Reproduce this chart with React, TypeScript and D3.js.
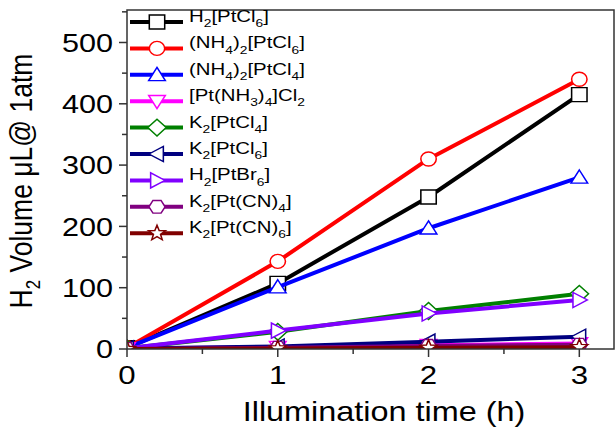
import * as d3 from "d3";

const times = [0, 1, 2, 3];
const seriesNames = [
  "H2[PtCl6]",
  "(NH4)2[PtCl6]",
  "(NH4)2[PtCl4]",
  "[Pt(NH3)4]Cl2",
  "K2[PtCl4]",
  "K2[PtCl6]",
  "H2[PtBr6]",
  "K2[Pt(CN)4]",
  "K2[Pt(CN)6]",
];
const seriesColors = ["#000000", "#ff0000", "#0000ff", "#ff00ff", "#008000", "#000080", "#8000ff", "#800080", "#800000"];
const seriesShapes = ["square", "circle", "triangleUp", "triangleDown", "diamond", "triangleLeft", "triangleRight", "hexagon", "star"];
const h2ptcl6 = [2, 107, 248, 415];
const nh4ptcl6 = [2, 143, 310, 440];
const nh4ptcl4 = [2, 101, 197, 280];
const ptnh3 = [1, 3, 6, 9];
const k2ptcl4 = [1, 28, 62, 90];
const k2ptcl6 = [1, 4, 12, 20];
const h2ptbr6 = [1, 30, 58, 80];
const k2ptcn4 = [0, 2, 5, 7];
const k2ptcn6 = [0, 1, 2, 3];
const seriesValues = [h2ptcl6, nh4ptcl6, nh4ptcl4, ptnh3, k2ptcl4, k2ptcl6, h2ptbr6, k2ptcn4, k2ptcn6];
const xTicks = [0, 1, 2, 3];
const yTicks = [0, 100, 200, 300, 400, 500];

const W = 616, H = 427;
const margin = { left: 127, top: 10, right: 2, bottom: 78 };
const FONT = "Arial, 'Liberation Sans', sans-serif";
const SX = 1.2; // the picture is a bit wider than tall, text too

// marker outline, r ~ half size
function markerPath(shape: string, r: number) {
  const pts = (n: number, a0: number, rr: number) =>
    d3.range(n).map(i => {
      const a = a0 + (i * 2 * Math.PI) / n;
      return [rr * Math.cos(a), rr * Math.sin(a)];
    });
  const poly = (p: number[][]) => "M" + p.map(q => q[0].toFixed(2) + "," + q[1].toFixed(2)).join("L") + "Z";
  switch (shape) {
    case "square": return poly([[-r, -r], [r, -r], [r, r], [-r, r]]);
    case "circle": return `M${r},0A${r},${r} 0 1,1 ${-r},0A${r},${r} 0 1,1 ${r},0Z`;
    case "triangleUp": return poly(pts(3, -Math.PI / 2, r * 1.25).map(p => [p[0], p[1] + r * 0.2]));
    case "triangleDown": return poly(pts(3, Math.PI / 2, r * 1.25).map(p => [p[0], p[1] - r * 0.2]));
    case "triangleLeft": return poly(pts(3, Math.PI, r * 1.25).map(p => [p[0] + r * 0.2, p[1]]));
    case "triangleRight": return poly(pts(3, 0, r * 1.25).map(p => [p[0] - r * 0.2, p[1]]));
    case "diamond": return poly([[0, -r * 1.2], [r * 1.2, 0], [0, r * 1.2], [-r * 1.2, 0]]);
    case "hexagon": return poly(pts(6, 0, r * 1.05));
    case "star": {
      const p = d3.range(10).map(i => {
        const a = -Math.PI / 2 + (i * Math.PI) / 5;
        const rr = i % 2 === 0 ? r * 1.15 : r * 0.48;
        return [rr * Math.cos(a), rr * Math.sin(a)];
      });
      return poly(p);
    }
  }
  return "";
}

// digits become subscripts
function SubText({ text, size, sub }: { text: string; size: number; sub: number }) {
  const parts = text.split(/(\d+)/).filter(s => s.length);
  const sh = size * 0.3;
  return (
    <>
      {parts.map((p, i) => /^\d+$/.test(p)
        ? <tspan key={i} fontSize={sub} dy={sh}>{p}</tspan>
        : <tspan key={i} dy={i > 0 && /^\d+$/.test(parts[i - 1]) ? -sh : 0}>{p}</tspan>)}
    </>
  );
}

export default function App() {
  const iw = W - margin.left - margin.right;
  const ih = H - margin.top - margin.bottom;
  const x = d3.scaleLinear().domain([0, 3.23]).range([0, iw]);
  const y = d3.scaleLinear().domain([0, 553]).range([ih, 0]);
  const line = d3.line<number>().x((_, i) => x(times[i])).y(d => y(d));
  const xMinor = d3.range(0.5, 3.2, 1);
  const yMinor = d3.range(50, 551, 100);

  return (
    <svg width={W} height={H} style={{ position: "absolute", left: 0, top: 0 }} fontFamily={FONT}>
      <rect width={W} height={H} fill="#fff" />
      <defs>
        <clipPath id="plotClip"><rect x={0} y={0} width={iw} height={ih} /></clipPath>
      </defs>
      <g transform={`translate(${margin.left},${margin.top})`}>
        {xTicks.map(t => (
          <g key={t} transform={`translate(${x(t)},${ih})`}>
            <line y2={8} stroke="#333" strokeWidth={1.5} />
            <text transform={`translate(0,35) scale(${SX},1)`} textAnchor="middle" fontSize={26}>{t}</text>
          </g>
        ))}
        {xMinor.map(t => <line key={t} x1={x(t)} x2={x(t)} y1={ih} y2={ih + 5} stroke="#333" strokeWidth={1.5} />)}
        {yTicks.map(t => (
          <g key={t} transform={`translate(0,${y(t)})`}>
            <line x2={-8} stroke="#333" strokeWidth={1.5} />
            <text transform={`translate(-14,0) scale(${SX},1)`} dy="0.36em" textAnchor="end" fontSize={25.5}>{t}</text>
          </g>
        ))}
        {yMinor.map(t => <line key={t} y1={y(t)} y2={y(t)} x2={-5} stroke="#333" strokeWidth={1.5} />)}

        <g clipPath="url(#plotClip)">
          {seriesValues.map((vals, s) => (
            <g key={s}>
              <path d={line(vals) || ""} fill="none" stroke={seriesColors[s]} strokeWidth={4} strokeLinejoin="round" />
              {vals.map((v, i) => (
                <path key={i} d={markerPath(seriesShapes[s], 7)} transform={`translate(${x(times[i])},${y(v)}) scale(1.1,1)`}
                  fill="#fff" stroke={seriesColors[s]} strokeWidth={1.4} />
              ))}
            </g>
          ))}
        </g>
        <rect x={0} y={0} width={iw} height={ih} fill="none" stroke="#333" strokeWidth={1.5} />
      </g>

      <g transform="translate(130,22)">
        {seriesNames.map((n, s) => (
          <g key={n} transform={`translate(0,${s * 26.4})`}>
            <line x1={0} x2={53} stroke={seriesColors[s]} strokeWidth={4} />
            <path d={markerPath(seriesShapes[s], 7)} transform="translate(27,0) scale(1.1,1)" fill="#fff" stroke={seriesColors[s]} strokeWidth={1.4} />
            <text transform={`translate(59,0) scale(${SX},1)`} dy="0.36em" fontSize={17}>
              <SubText text={n} size={17} sub={11.5} />
            </text>
          </g>
        ))}
      </g>

      <text transform={`translate(384,421) scale(${SX},1)`} textAnchor="middle" fontSize={27}>Illumination time (h)</text>
      <text transform={`translate(32,181) rotate(-90) scale(1,${SX})`} textAnchor="middle" fontSize={26.5}>
        <tspan>H</tspan><tspan fontSize={17} dy={7}>2</tspan><tspan dy={-7}> Volume μL@ 1atm</tspan>
      </text>
    </svg>
  );
}
